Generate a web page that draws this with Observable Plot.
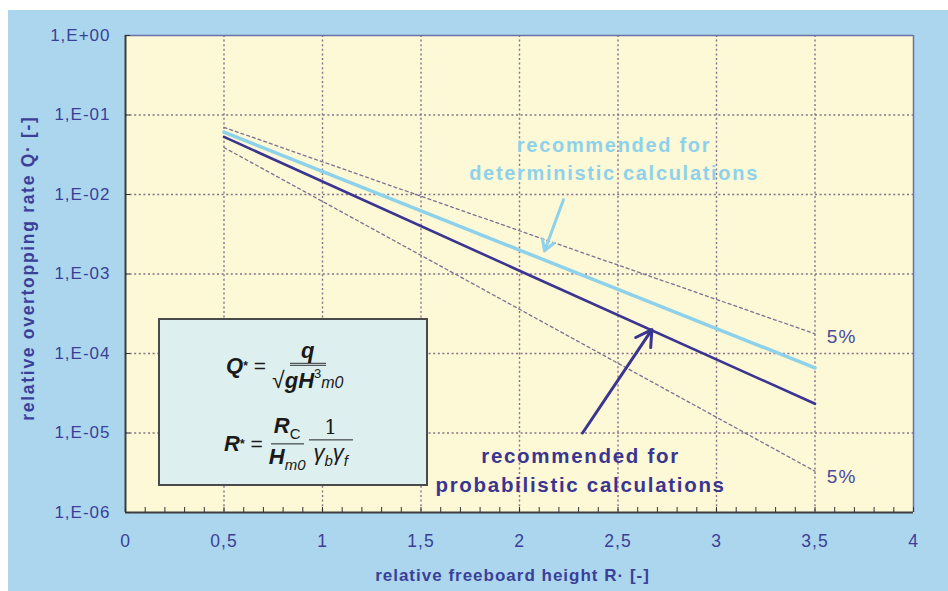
<!DOCTYPE html>
<html>
<head>
<meta charset="utf-8">
<script src="https://cdn.jsdelivr.net/npm/d3@7"></script>
<script src="https://cdn.jsdelivr.net/npm/@observablehq/plot@0.6"></script>
<style>
  html, body { margin: 0; padding: 0; background: #ffffff; }
  #wrap { position: relative; width: 948px; height: 591px; overflow: hidden; font-family: "Liberation Sans", Arial, sans-serif; }
  #panel { position: absolute; left: 8px; top: 10px; right: 0; bottom: 0; background: #abd6ee; }
  #chart { position: absolute; left: 0; top: 0; }
  #chart svg text { letter-spacing: 1px; }
  #formula { position: absolute; left: 158px; top: 318px; width: 266px; height: 164px;
    background: #ddefef; border: 2px solid #4a4a4a; color: #1a1a1a; font-family: "Liberation Sans", Arial, sans-serif; }
  .eq { position: absolute; display: flex; align-items: center; font-size: 22px; transform: translateY(-50%); }
  .frac { display: inline-flex; flex-direction: column; align-items: center; }
  .num { border-bottom: 1.8px solid #222; padding: 0 3px 1px 3px; line-height: 1.05; text-align: center; }
  .den { padding-top: 1px; line-height: 1.1; text-align: center; }
  .bi { font-weight: bold; font-style: italic; }
  .it { font-style: italic; }
  .eqs { margin: 0 6px; font-size: 21px; }
  .sub { font-size: 15px; vertical-align: -6px; }
  .sup { font-size: 13px; vertical-align: 10px; }
  .star { font-size: 12px; vertical-align: -5px; font-weight: bold; }
</style>
</head>
<body>
<div id="wrap">
  <div id="panel"></div>
  <div id="chart"></div>
  <div id="formula">
    <div class="eq" style="left:66px; top:46px;">
      <span class="bi">Q</span><span class="star">*</span>
      <span class="eqs">=</span>
      <span class="frac">
        <span class="num" style="border-bottom:3.5px double #333; padding:0 5px 1px 5px;"><span class="bi">&nbsp;q&nbsp;</span></span>
        <span class="den"><span style="font-size:23px;">&radic;</span><span class="bi">gH</span><span class="sup">3</span><span class="it" style="font-size:16px;">m0</span></span>
      </span>
    </div>
    <div class="eq" style="left:64px; top:124px;">
      <span class="bi">R</span><span class="star">*</span>
      <span class="eqs">=</span>
      <span class="frac">
        <span class="num"><span class="bi">R</span><span class="sub">C</span></span>
        <span class="den"><span class="bi">H</span><span class="sub it">m0</span></span>
      </span>
      <span class="frac" style="margin-left:3px;">
        <span class="num" style="font-family:'DejaVu Serif',serif; font-size:20px;">&nbsp;&nbsp;1&nbsp;&nbsp;</span>
        <span class="den"><span class="it">&gamma;</span><span class="sub it">b</span><span class="it">&gamma;</span><span class="sub it">f</span></span>
      </span>
    </div>
  </div>
</div>
<script>
// ---- data ----
const relFreeboard = [0.5, 2.0, 3.5];                // R* [-]
const deterministic = [0.061, 2.0e-3, 6.6e-5];       // light blue line
const probabilistic = [0.053, 1.1e-3, 2.33e-5];      // dark line
const upper5 = [0.070, 3.5e-3, 1.77e-4];             // upper 5% band
const lower5 = [0.039, 3.6e-4, 3.3e-6];              // lower 5% band

const xTicks = [0, 0.5, 1, 1.5, 2, 2.5, 3, 3.5, 4];
const xTickLabels = ["0", "0,5", "1", "1,5", "2", "2,5", "3", "3,5", "4"];
const xGrid = [0.5, 1, 1.5, 2, 2.5, 3, 3.5];
const yTicks = [1, 1e-1, 1e-2, 1e-3, 1e-4, 1e-5, 1e-6];
const yTickLabels = ["1,E+00", "1,E-01", "1,E-02", "1,E-03", "1,E-04", "1,E-05", "1,E-06"];
const yGrid = [1e-1, 1e-2, 1e-3, 1e-4, 1e-5];

const xTitle = "relative freeboard height R\u00b7 [-]";
const yTitle = "relative overtopping rate Q\u00b7 [-]";

// annotations (data coordinates)
const detLabel = [{x: 2.48, y: 0.030, text: "recommended for\ndeterministic calculations"}];
const probLabel = [{x: 2.31, y: 3.6e-6, text: "recommended for\nprobabilistic calculations"}];
const detArrow = [{x1: 2.223, y1: 8.6e-3, x2: 2.127, y2: 1.95e-3}];
const probArrow = [{x1: 2.32, y1: 1.0e-5, x2: 2.672, y2: 2.0e-4}];
const pctLabels = [{x: 3.56, y: 1.64e-4, text: "5%"}, {x: 3.56, y: 2.8e-6, text: "5%"}];

const toRows = (ys) => relFreeboard.map((x, i) => ({x, y: ys[i]}));

const textCol = "#3b3f98";
const darkLine = "#3a3590";
const lightLine = "#8dd2ea";
const gridCol = "#86708c";
const bandCol = "#7e7095";

const chart = Plot.plot({
  width: 948,
  height: 591,
  marginLeft: 125,
  marginRight: 35,
  marginTop: 35,
  marginBottom: 79,
  style: {background: "transparent", fontFamily: "'Liberation Sans', Arial, sans-serif"},
  x: {domain: [0, 4], label: null},
  y: {type: "log", domain: [1e-6, 1], label: null},
  marks: [
    Plot.frame({fill: "#fdf8d5", stroke: null}),
    Plot.gridX(xGrid, {stroke: gridCol, strokeOpacity: 1, strokeWidth: 1.4, strokeDasharray: "2,2.6"}),
    Plot.gridY(yGrid, {stroke: gridCol, strokeOpacity: 1, strokeWidth: 1.4, strokeDasharray: "2,2.6"}),
    Plot.line(toRows(upper5), {x: "x", y: "y", stroke: bandCol, strokeWidth: 1.3, strokeDasharray: "3,3"}),
    Plot.line(toRows(lower5), {x: "x", y: "y", stroke: bandCol, strokeWidth: 1.3, strokeDasharray: "3,3"}),
    Plot.line(toRows(deterministic), {x: "x", y: "y", stroke: lightLine, strokeWidth: 3.5}),
    Plot.line(toRows(probabilistic), {x: "x", y: "y", stroke: darkLine, strokeWidth: 2.6}),
    Plot.arrow(detArrow, {x1: "x1", y1: "y1", x2: "x2", y2: "y2", stroke: lightLine, strokeWidth: 3, headLength: 6}),
    Plot.arrow(probArrow, {x1: "x1", y1: "y1", x2: "x2", y2: "y2", stroke: darkLine, strokeWidth: 3, headLength: 9}),
    Plot.text(detLabel, {x: "x", y: "y", text: "text", fill: lightLine, fontSize: 20, fontWeight: "bold", lineHeight: 1.4}),
    Plot.text(probLabel, {x: "x", y: "y", text: "text", fill: darkLine, fontSize: 20.5, fontWeight: "bold", lineHeight: 1.4}),
    Plot.text(pctLabels, {x: "x", y: "y", text: "text", fill: "#4a4aa0", fontSize: 19, textAnchor: "start"}),
    // frame edges
    Plot.ruleX([4], {stroke: "#6c70a8", strokeWidth: 1.5}),
    Plot.ruleY([1], {stroke: "#6c70a8", strokeWidth: 1.5}),
    Plot.ruleX([0], {stroke: "#3d3d3d", strokeWidth: 2}),
    Plot.ruleY([1e-6], {stroke: "#3d3d3d", strokeWidth: 2}),
    // inward ticks
    Plot.axisX({ticks: 40, tickSize: -5, stroke: "#333", fill: "none", label: null}),
    Plot.axisY({ticks: yTicks, tickSize: -5, stroke: "#333", fill: "none", label: null}),
    // tick labels
    Plot.axisX({ticks: xTicks, tickSize: 0, tickPadding: 22, tickFormat: d => xTickLabels[xTicks.indexOf(d)], fill: textCol, fontSize: 17.5, label: null}),
    Plot.axisY({ticks: yTicks, tickSize: 0, tickPadding: 15, tickFormat: d => yTickLabels[yTicks.indexOf(d)], fill: textCol, fontSize: 17, label: null}),
    // axis titles
    Plot.text([xTitle], {frameAnchor: "bottom", lineAnchor: "middle", dy: 63, dx: -7, fill: textCol, fontSize: 17, fontWeight: "bold"}),
    Plot.text([yTitle], {frameAnchor: "left", textAnchor: "middle", lineAnchor: "middle", dx: -97, dy: -6, rotate: -90, fill: textCol, fontSize: 17.5, fontWeight: "bold"})
  ]
});
document.getElementById("chart").appendChild(chart);
// wider letter spacing for the annotation blocks and the y title
d3.select(chart).selectAll("text").filter(function() { return /recommended/.test(this.textContent); })
  .style("letter-spacing", "1.7px");
d3.select(chart).selectAll("text").filter(function() { return /overtopping/.test(this.textContent); })
  .style("letter-spacing", "1.7px");
</script>
</body>
</html>
